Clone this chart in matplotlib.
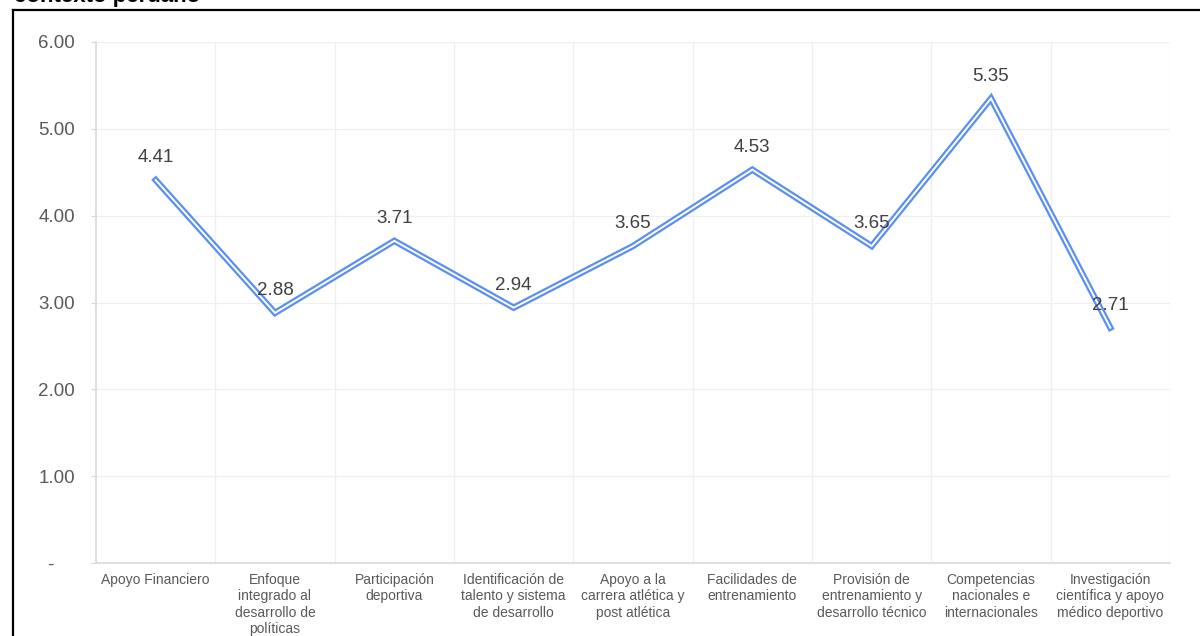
import matplotlib
matplotlib.use("Agg")
import matplotlib.pyplot as plt
from matplotlib.lines import Line2D

plt.rcParams['font.family'] = ['Liberation Sans', 'DejaVu Sans']

categories = [
    "Apoyo Financiero",
    "Enfoque\nintegrado al\ndesarrollo de\npolíticas",
    "Participación\ndeportiva",
    "Identificación de\ntalento y sistema\nde desarrollo",
    "Apoyo a la\ncarrera atlética y\npost atlética",
    "Facilidades de\nentrenamiento",
    "Provisión de\nentrenamiento y\ndesarrollo técnico",
    "Competencias\nnacionales e\ninternacionales",
    "Investigación\ncientífica y apoyo\nmédico deportivo",
]
values = [4.41, 2.88, 3.71, 2.94, 3.65, 4.53, 3.65, 5.35, 2.71]
yticks = [0, 1, 2, 3, 4, 5, 6]
ytick_labels = ["-    ", "1.00", "2.00", "3.00", "4.00", "5.00", "6.00"]
title_text = "contexto peruano"

W, H = 1200, 636
fig = plt.figure(figsize=(W / 100, H / 100), dpi=100)
ax = fig.add_axes([96 / W, 1 - 563 / H, (1170 - 96) / W, (563 - 42) / H])

n = len(values)
x = list(range(n))
ax.set_xlim(-0.5, n - 0.5)
ax.set_ylim(0, 6)

# grid
for b in [i + 0.5 for i in range(n)]:
    ax.axvline(b, color="#efefef", lw=0.9, zorder=0)
for t in yticks[1:]:
    ax.axhline(t, color="#efefef", lw=0.9, zorder=0)

ax.plot(x, values, color="#5a8ff2", lw=4.6, solid_joinstyle="miter", zorder=3)
ax.plot(x, values, color="white", lw=1.4, solid_joinstyle="miter", zorder=4)

for xi, v in zip(x, values):
    ax.annotate(f"{v:.2f}", (xi, v), xytext=(0, 16), textcoords="offset points",
                ha="center", va="center", fontsize=13.5, color="#404040", zorder=5)

ax.set_yticks(yticks)
ax.set_yticklabels(ytick_labels, fontsize=13.5, color="#595959")
ax.set_xticks(x)
ax.set_xticklabels(categories, fontsize=10, color="#595959", linespacing=1.22)
ax.tick_params(axis="x", length=0, pad=7)
ax.tick_params(axis="y", length=3.5, color="#d9d9d9", pad=11.5)

for s in ["top", "right"]:
    ax.spines[s].set_visible(False)
ax.spines["left"].set_color("#d9d9d9")
ax.spines["bottom"].set_color("#d9d9d9")
ax.spines["left"].set_linewidth(1.2)
ax.spines["bottom"].set_linewidth(1.2)

# outer frame (top and left edges)
fig.add_artist(Line2D([13 / W, 1.0], [1 - 10 / H, 1 - 10 / H], color="black", lw=1.6, transform=fig.transFigure))
fig.add_artist(Line2D([13 / W, 13 / W], [1 - 10 / H, 0.0], color="black", lw=1.6, transform=fig.transFigure))

# title, cut off at the top edge as in the reference
fig.text(14 / W, 1 - 2 / H, title_text, fontsize=16, fontweight="bold", color="black",
         ha="left", va="baseline")

fig.savefig("out.png", dpi=100)
